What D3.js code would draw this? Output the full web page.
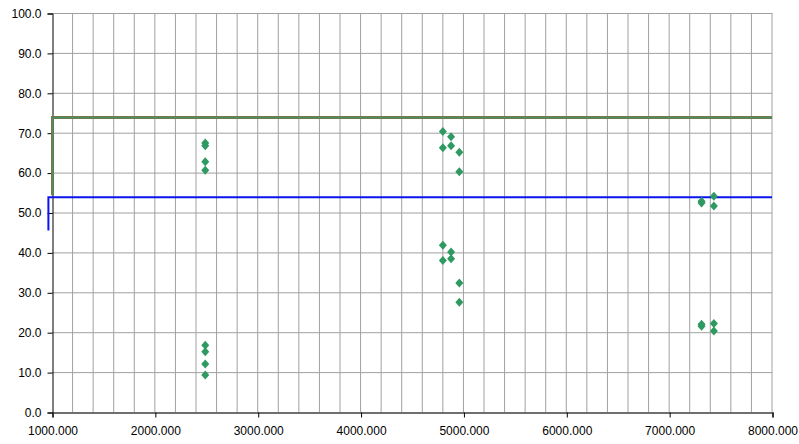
<!DOCTYPE html>
<html><head><meta charset="utf-8">
<script src="https://cdn.jsdelivr.net/npm/d3@7"></script>
<style>body{margin:0;background:#fff}svg{display:block}text{font-family:"Liberation Sans",Arial,sans-serif}</style>
</head><body>
<svg id="c" width="799" height="444"></svg>
<script>
const xTicks = [1000,2000,3000,4000,5000,6000,7000,8000];
const yTicks = [0,10,20,30,40,50,60,70,80,90,100];
const pointsX = [2490,2490,2490,2490,2490,2490,2490,2490,
  4800,4800,4800,4800,4880,4880,4880,4880,4960,4960,4960,4960,
  7315,7315,7315,7315,7435,7435,7435,7435];
const pointsY = [67.4,66.7,62.7,60.6,16.7,15.1,12.0,9.3,
  70.3,66.2,41.8,38.0,69.0,66.7,40.1,38.4,65.1,60.2,32.3,27.5,
  52.4,52.8,21.5,22.0,54.1,51.6,22.2,20.3];
const greenX = [1005,1005,8000];
const greenY = [54.3,73.8,73.8];
const blueX = [965,965,8000];
const blueY = [45.5,53.8,53.8];

const svg = d3.select("#c");
const m = {l:52, r:27, t:13, b:32};
const W = 799, H = 444;
const x = d3.scaleLinear().domain([1000,8000]).range([m.l, W-m.r]);
const y = d3.scaleLinear().domain([0,100]).range([H-m.b, m.t]);

// grid
const gridX = d3.range(1200, 8001, 200);
svg.append("g").selectAll("line").data(gridX).join("line")
  .attr("x1", d=>x(d)).attr("x2", d=>x(d)).attr("y1", y(0)).attr("y2", y(100))
  .attr("stroke", "#a0a0a0").attr("stroke-width", 1);
svg.append("g").selectAll("line").data(yTicks.slice(1)).join("line")
  .attr("x1", x(1000)).attr("x2", x(8000)).attr("y1", d=>y(d)+0.5).attr("y2", d=>y(d)+0.5)
  .attr("stroke", "#a0a0a0").attr("stroke-width", 1);

// axes
const yAxis = svg.append("g").attr("transform", `translate(${m.l+0.5},0.5)`)
  .call(d3.axisLeft(y).tickValues(yTicks).tickFormat(d3.format(".1f")).tickSize(5).tickPadding(6));
const xAxis = svg.append("g").attr("transform", `translate(0.5,${y(0)+0.5})`)
  .call(d3.axisBottom(x).tickValues(xTicks).tickFormat(d3.format(".3f")).tickSize(5).tickPadding(9));
[yAxis, xAxis].forEach(a => {
  a.select(".domain").attr("stroke", "#000");
  a.selectAll(".tick line").attr("stroke", "#000");
  a.selectAll("text").attr("font-size", 12).attr("fill", "#000").attr("font-family", "'Liberation Sans',Arial,sans-serif");
});
xAxis.select(".domain").attr("stroke", "#404040").attr("stroke-width", 1.5);

// lines
const line = d3.line().x(d=>x(d[0])).y(d=>y(d[1]));
const gData = greenX.map((v,i)=>[v, greenY[i]]);
const bData = blueX.map((v,i)=>[v, blueY[i]]);
svg.append("path").attr("d", line(gData)).attr("fill","none").attr("stroke","#72784c").attr("stroke-width",3);
svg.append("path").attr("d", line(gData)).attr("fill","none").attr("stroke","#4a905e").attr("stroke-width",1.3);
svg.append("path").attr("d", line(bData)).attr("fill","none").attr("stroke","#0a14f0").attr("stroke-width",2);

// points
const diamond = "M0,-4.5L4,0L0,4.5L-4,0Z";
svg.append("g").selectAll("path").data(pointsX.map((v,i)=>[v, pointsY[i]])).join("path")
  .attr("d", diamond)
  .attr("transform", d=>`translate(${x(d[0])},${y(d[1])})`)
  .attr("fill", "#2e9a62");
</script>
</body></html>
